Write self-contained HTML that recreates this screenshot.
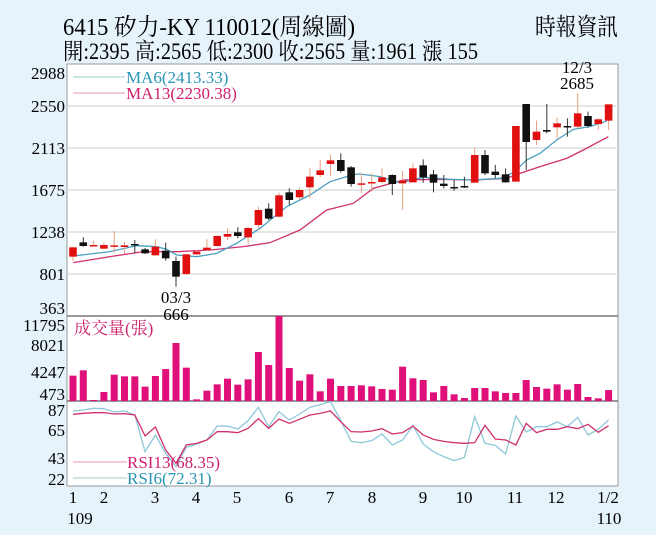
<!DOCTYPE html>
<html><head><meta charset="utf-8"><style>
html,body{margin:0;padding:0;background:#e6f3fb;}
svg{display:block;font-family:"Liberation Serif","Noto Serif CJK SC",serif;}
</style></head><body>
<svg id="s" width="656" height="535" viewBox="0 0 656 535" xmlns="http://www.w3.org/2000/svg">
<rect width="656" height="535" fill="#e6f3fb"/>
<text x="63" y="35" font-size="24" textLength="292" lengthAdjust="spacingAndGlyphs">6415  矽力-KY 110012(周線圖)</text>
<text x="535" y="35" font-size="24" textLength="83" lengthAdjust="spacingAndGlyphs">時報資訊</text>
<text x="63" y="59" font-size="23" textLength="415" lengthAdjust="spacingAndGlyphs">開:2395 高:2565 低:2300 收:2565 量:1961 漲 155</text>
<rect x="67" y="64" width="551" height="422" fill="#fff" stroke="#999" stroke-width="1"/>
<g stroke="#ddd" stroke-width="1.5">
<line x1="67" x2="618" y1="106" y2="106"/><line x1="67" x2="618" y1="148" y2="148"/>
<line x1="67" x2="618" y1="190" y2="190"/><line x1="67" x2="618" y1="232" y2="232"/>
<line x1="67" x2="618" y1="274" y2="274"/>
</g>
<line x1="67" x2="618" y1="316" y2="316" stroke="#777" stroke-width="1.5"/>
<line x1="67" x2="618" y1="401" y2="401" stroke="#777" stroke-width="1.5"/>
<g font-size="17" text-anchor="end">
<text x="65" y="79">2988</text><text x="65" y="112">2550</text><text x="65" y="154">2113</text>
<text x="65" y="196">1675</text><text x="65" y="238">1238</text><text x="65" y="280">801</text>
<text x="65" y="314">363</text>
<text x="65" y="331">11795</text><text x="65" y="351">8021</text><text x="65" y="378">4247</text><text x="65" y="400">473</text>
<text x="65" y="416">87</text><text x="65" y="436">65</text><text x="65" y="464">43</text><text x="65" y="485">22</text>
</g>
<g font-size="17" text-anchor="middle">
<text x="73" y="503">1</text><text x="104" y="503">2</text><text x="155" y="503">3</text><text x="196" y="503">4</text>
<text x="237" y="503">5</text><text x="289" y="503">6</text><text x="330" y="503">7</text><text x="372" y="503">8</text>
<text x="423" y="503">9</text><text x="464" y="503">10</text><text x="515" y="503">11</text><text x="556" y="503">12</text>
<text x="608" y="503">1/2</text><text x="80" y="524">109</text><text x="609" y="524">110</text>
</g>
<g font-size="17" text-anchor="middle">
<text x="176" y="303">03/3</text><text x="176" y="320">666</text>
<text x="577" y="73">12/3</text><text x="577" y="89">2685</text>
</g>
<line x1="73" x2="125" y1="77" y2="77" stroke="#9cc" stroke-width="1"/>
<line x1="73" x2="125" y1="93" y2="93" stroke="#e9a" stroke-width="1"/>
<text x="126" y="83" font-size="17" fill="#2a95b5">MA6(2413.33)</text>
<text x="126" y="99" font-size="17" fill="#d0206e">MA13(2230.38)</text>
<text x="74" y="334" font-size="17" fill="#d0206e">成交量(張)</text>
<g id="dyn"></g>
<line x1="73" x2="127" y1="462" y2="462" stroke="#e9a" stroke-width="1"/>
<line x1="73" x2="127" y1="478" y2="478" stroke="#9cc" stroke-width="1"/>
<text x="127" y="468" font-size="17" fill="#d0206e">RSI13(68.35)</text>
<text x="127" y="484" font-size="17" fill="#2a95b5">RSI6(72.31)</text>
</svg>
<script>
var NS="http://www.w3.org/2000/svg",g=document.getElementById("dyn");
function el(t,a){var e=document.createElementNS(NS,t);for(var k in a)e.setAttribute(k,a[k]);g.appendChild(e);return e;}
function X(n){return 73+(n-1)*10.3;}
var vol=[227,211,300,276,224,229,229,260,228,207,129,203,298,272,253,236,254,238,156,195,48,204,242,223,274,236,258,258,256,259,267,269,200,235,240,277,258,283,294,264,264,274,279,279,240,261,266,253,269,252,291,295,270];
vol.forEach(function(v,i){var t=300+v/3;if(t<401)el("rect",{x:X(i+1)-3.5,y:t,width:7,height:401-t,fill:"#e0107a"});});
var r13=[343,340,338,338,342,341,345,408,381,450,490,435,430,420,395,395,398,385,356,385,357,370,358,345,340,333,365,395,396,393,386,402,398,378,405,418,424,428,430,428,376,417,420,435,370,398,388,388,380,386,373,397,377];
var r6=[333,330,325,326,336,333,345,455,405,460,500,442,432,420,378,378,387,362,322,380,335,360,342,322,314,305,362,424,428,422,402,435,420,376,432,455,470,482,472,350,430,436,462,348,396,380,380,366,380,352,405,388,360];
function pl(arr,c){var p=arr.map(function(v,i){return X(i+1)+","+Math.min(486,300+v/3)}).join(" ");el("polyline",{points:p,fill:"none",stroke:c,"stroke-width":1.3});}
pl(r6,"#8cc8d8");pl(r13,"#d0306e");
function conv(pts,ox,oy){return pts.map(function(p){return [ox+p[0]/3,oy+p[1]/3]});}
function ml(a,b,c){var all=a.concat(b).sort(function(p,q){return p[0]-q[0]});el("polyline",{points:all.map(function(p){return p[0]+","+p[1]}).join(" "),fill:"none",stroke:c,"stroke-width":1.3});}
ml(conv([[40,488],[150,470],[250,455],[350,455],[450,450],[550,440],[630,428],[720,390],[800,330]],60,100),
   conv([[40,430],[100,385],[190,360],[300,358],[400,360],[500,355],[540,340],[600,320],[680,295],[730,270],[805,230]],340,60),"#d0306e");
ml(conv([[40,468],[150,455],[230,437],[290,440],[320,448],[350,465],[410,470],[470,460],[530,430],[600,385],[680,320],[750,285],[810,245],[870,225]],60,100),
   conv([[20,350],[60,342],[120,350],[180,368],[250,352],[330,358],[400,360],[480,355],[520,338],[560,300],[600,280],[650,240],[700,208],[750,200],[800,183]],340,60),"#4aa0c0");
var c1=[[442,470,442,482,"r"],[427,438,412,440,"b"],[435,438,422,440,"r"],[435,446,427,448,"r"],[436,440,393,458,"r"],[436,441,426,460,"r"],[432,435,420,460,"b"],[448,460,444,462,"b"],[440,466,418,466,"r"],[452,475,428,482,"b"],[483,530,470,560,"b"],[463,522,462,525,"r"],[455,463,450,465,"r"],[443,450,418,452,"r"],[408,438,405,440,"r"],[402,410,385,420,"r"],[397,408,382,415,"b"],[384,412,380,432,"r"],[330,375,320,388,"r"],[326,356,310,360,"b"],[286,350,278,352,"r"],[277,300,265,315,"b"],[270,292,262,298,"r"],[230,262,205,295,"r"],[211,225,180,232,"r"],[181,192,164,228,"r"]];
var c2=[[300,333,280,338,"b"],[322,372,318,380,"b"],[370,373,340,400,"r"],[366,370,340,395,"r"],[352,366,325,370,"r"],[345,372,343,405,"b"],[362,370,333,450,"r"],[325,367,310,368,"r"],[316,352,298,368,"b"],[343,368,330,397,"b"],[371,378,345,385,"b"],[381,384,360,392,"b"],[378,381,350,384,"b"],[285,368,262,370,"r"],[285,340,270,345,"b"],[335,345,315,355,"b"],[343,367,325,368,"b"],[198,365,198,365,"r"],[132,246,132,330,"b"],[215,240,182,255,"r"],[210,215,132,220,"b"],[190,202,172,235,"r"],[198,200,175,230,"b"],[160,200,100,205,"r"],[168,198,155,202,"b"],[178,192,175,210,"r"],[133,182,133,210,"r"]];
function cd(n,c,oy){var x=X(n),col=c[4]=="r"?"#e01010":"#111",wc=c[4]=="r"?"#e8a080":"#333";
el("line",{x1:x,x2:x,y1:oy+c[2]/3,y2:oy+c[3]/3,stroke:wc,"stroke-width":1});
el("rect",{x:x-3.8,y:oy+c[0]/3,width:7.6,height:Math.max(1.5,(c[1]-c[0])/3),fill:col});}
c1.forEach(function(c,i){cd(i+1,c,100);});
c2.forEach(function(c,i){cd(i+27,c,60);});
</script>
</body></html>
